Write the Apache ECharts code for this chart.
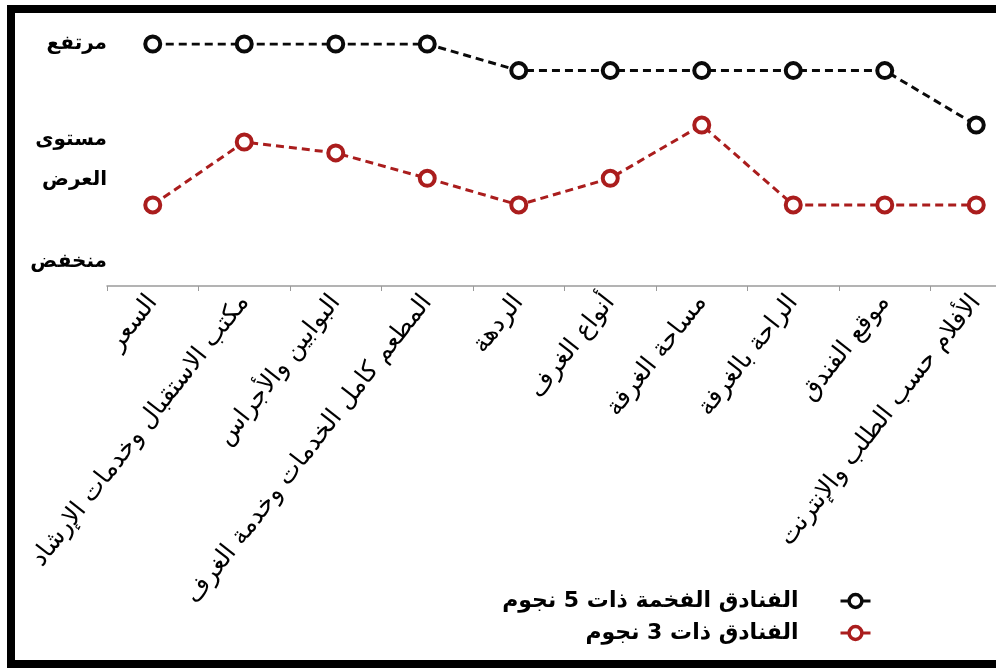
<!DOCTYPE html>
<html>
<head>
<meta charset="utf-8">
<script src="https://cdn.jsdelivr.net/npm/echarts@6/dist/echarts.min.js"></script>
<style>
  html, body { margin: 0; padding: 0; background: #fff; overflow: hidden; }
  #wrap { width: 996px; height: 668px; position: relative; overflow: hidden; }
  #chart { width: 996px; height: 668px; position: absolute; left: 0; top: 0; }
  #frame { position: absolute; left: 7px; top: 5px; width: 1010px; height: 663px;
           box-sizing: border-box; border: 8px solid #000; pointer-events: none; }
</style>
</head>
<body>
<div id="wrap">
  <div id="chart"></div>
  <div id="frame"></div>
</div>
<script>
const categories = [
  'السعر',
  'مكتب الاستقبال وخدمات الإرشاد',
  'البوابين والأجراس',
  'المطعم كامل الخدمات وخدمة الغرف',
  'الردهة',
  'أنواع الغرف',
  'مساحة الغرفة',
  'الراحة بالغرفة',
  'موقع الفندق',
  'الأفلام حسب الطلب والإنترنت'
];
const seriesNames = ['الفنادق الفخمة ذات 5 نجوم', 'الفنادق ذات 3 نجوم'];
const fiveStar = [10, 10, 10, 10, 8.9, 8.9, 8.9, 8.9, 8.9, 6.65];
const threeStar = [3.35, 5.95, 5.5, 4.45, 3.35, 4.45, 6.65, 3.35, 3.35, 3.35];
const yTickValues = [1, 5.2, 10];
const yTickLabels = ['منخفض', 'مستوى\nالعرض', 'مرتفع'];

const FONT = 'DejaVu Sans';
const chart = echarts.init(document.getElementById('chart'), null, { renderer: 'canvas' });

function lineSeries(name, data, color) {
  return {
    name: name,
    type: 'line',
    data: data,
    symbol: 'circle',
    symbolSize: 15,
    itemStyle: { color: '#fff', borderColor: color, borderWidth: 4 },
    lineStyle: { color: color, width: 3, type: [8, 5] },
    emphasis: { disabled: true }
  };
}

chart.setOption({
  animation: false,
  backgroundColor: '#fff',
  grid: { left: 107, width: 915, top: 44, bottom: 382, containLabel: false, outerBoundsMode: 'none' },
  xAxis: {
    type: 'category',
    data: categories,
    boundaryGap: true,
    axisLine: { show: true, lineStyle: { color: '#9a9a9a', width: 1.5 } },
    axisTick: { show: true, length: 5, lineStyle: { color: '#9a9a9a' } },
    axisLabel: {
      interval: 0, rotate: 52, margin: 12,
      fontFamily: FONT, fontSize: 25, color: '#000'
    }
  },
  yAxis: {
    type: 'value',
    min: 0, max: 10,
    axisLine: { show: false },
    axisTick: { show: false },
    splitLine: { show: false },
    axisLabel: {
      customValues: yTickValues,
      margin: 0,
      fontFamily: FONT, fontSize: 20, fontWeight: 'bold', color: '#000',
      lineHeight: 40,
      align: 'right',
      formatter: function (v) {
        const i = yTickValues.indexOf(v);
        return i >= 0 ? yTickLabels[i] : '';
      }
    }
  },
  legend: {
    data: seriesNames,
    orient: 'vertical',
    align: 'right',
    right: 124,
    top: 590,
    padding: 0,
    itemWidth: 30,
    itemHeight: 16,
    itemGap: 10,
    lineStyle: { type: 'solid', width: 3 },
    itemStyle: { color: '#fff', borderWidth: 3.5 },
    textStyle: { fontFamily: FONT, fontSize: 22, fontWeight: 'bold', color: '#000', padding: [0, 37, 0, 0] }
  },
  series: [
    lineSeries(seriesNames[0], fiveStar, '#0a0a0a'),
    lineSeries(seriesNames[1], threeStar, '#aa1d1d')
  ]
});
</script>
</body>
</html>
